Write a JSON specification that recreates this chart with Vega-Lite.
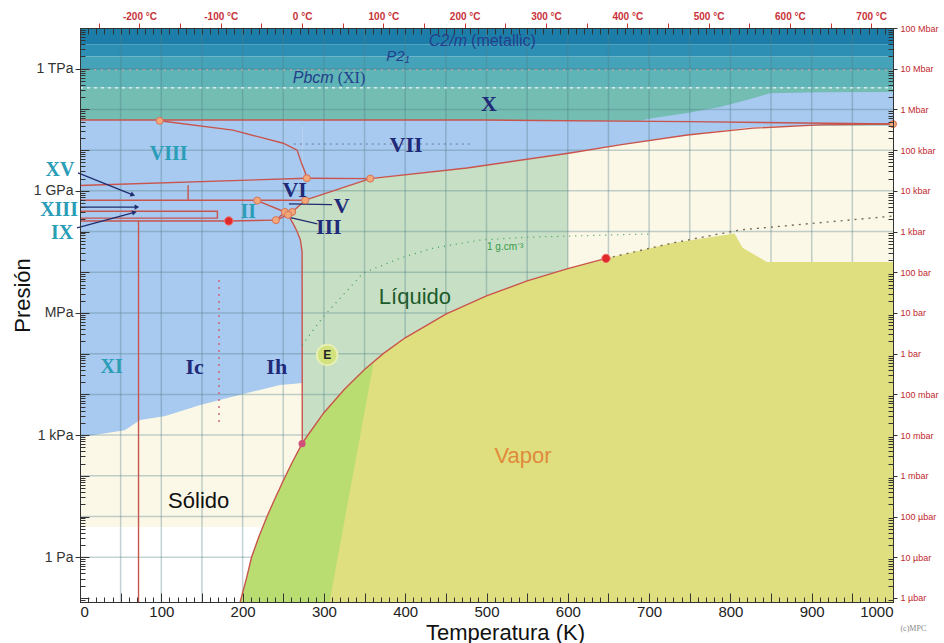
{
"$schema":"https://vega.github.io/schema/vega-lite/v6.json",
"width":813,"height":574,"autosize":"none",
"padding":{"left":80,"top":28,"right":51,"bottom":41},
"background":"white",
"config":{"view":{"stroke":null},"axis":{"grid":false,"labelFont":"Liberation Sans","titleFont":"Liberation Sans"}},
"resolve":{"axis":{"x":"independent","y":"independent"},"scale":{"color":"independent"}},
"datasets":{
"bandas":[
{"fase":"C2/m","T1":0,"T2":1000,"p1":12.6,"p2":13},
{"fase":"b2","T1":0,"T2":1000,"p1":12.3,"p2":12.6},
{"fase":"P21","T1":0,"T2":1000,"p1":11.97,"p2":12.3},
{"fase":"Pbcm","T1":0,"T2":1000,"p1":11.53,"p2":11.97},
{"fase":"X","T1":0,"T2":1000,"p1":10.6,"p2":11.53},
{"fase":"fluido","T1":0,"T2":1000,"p1":0.74,"p2":10.6}
],
"hielo":[
{"zona":"A","T":0,"lo":2.95,"hi":10.74},
{"zona":"A","T":55,"lo":3.12,"hi":10.74},
{"zona":"A","T":74,"lo":3.37,"hi":10.74},
{"zona":"A","T":105,"lo":3.47,"hi":10.74},
{"zona":"A","T":148,"lo":3.74,"hi":10.74},
{"zona":"A","T":185,"lo":3.93,"hi":10.74},
{"zona":"A","T":221,"lo":4.11,"hi":10.74},
{"zona":"A","T":246,"lo":4.23,"hi":10.74},
{"zona":"A","T":274,"lo":4.28,"hi":10.74},
{"zona":"B","T":274,"lo":8.77,"hi":10.74},
{"zona":"B","T":277,"lo":8.77,"hi":10.74},
{"zona":"B","T":357,"lo":9.3,"hi":10.74},
{"zona":"B","T":476,"lo":9.56,"hi":10.74},
{"zona":"B","T":603,"lo":9.93,"hi":10.73},
{"zona":"B","T":664,"lo":10.13,"hi":10.72},
{"zona":"B","T":689,"lo":10.2,"hi":10.72},
{"zona":"B","T":705,"lo":10.25,"hi":10.79},
{"zona":"B","T":747,"lo":10.37,"hi":10.91},
{"zona":"B","T":787,"lo":10.47,"hi":11.06},
{"zona":"B","T":820,"lo":10.55,"hi":11.23},
{"zona":"B","T":849,"lo":10.58,"hi":11.4},
{"zona":"B","T":910,"lo":10.62,"hi":11.42},
{"zona":"B","T":1000,"lo":10.64,"hi":11.43}
],
"liquido":[
{"T":256,"lo":8.41,"hi":8.41},
{"T":262,"lo":8.2,"hi":8.5},
{"T":267,"lo":8.0,"hi":8.6},
{"T":271,"lo":7.8,"hi":8.71},
{"T":273.2,"lo":7.5,"hi":8.76},
{"T":273.4,"lo":2.79,"hi":8.76},
{"T":277,"lo":2.9,"hi":8.77},
{"T":300,"lo":3.55,"hi":8.92},
{"T":325,"lo":4.12,"hi":9.09},
{"T":357,"lo":4.7,"hi":9.3},
{"T":400,"lo":5.39,"hi":9.39},
{"T":476,"lo":6.15,"hi":9.56},
{"T":550,"lo":6.79,"hi":9.77},
{"T":600,"lo":7.09,"hi":9.91}
],
"vapor":[
{"T":197,"lo":-1.1,"hi":-1.1},
{"T":205,"lo":-1.1,"hi":-0.5},
{"T":211,"lo":-1.1,"hi":0},
{"T":220,"lo":-1.1,"hi":0.5},
{"T":230,"lo":-1.1,"hi":1.0},
{"T":240,"lo":-1.1,"hi":1.45},
{"T":250,"lo":-1.1,"hi":1.88},
{"T":260,"lo":-1.1,"hi":2.29},
{"T":273.16,"lo":-1.1,"hi":2.79},
{"T":280,"lo":-1.1,"hi":2.99},
{"T":300,"lo":-1.1,"hi":3.55},
{"T":325,"lo":-1.1,"hi":4.12},
{"T":350,"lo":-1.1,"hi":4.61},
{"T":373,"lo":-1.1,"hi":5.0},
{"T":400,"lo":-1.1,"hi":5.39},
{"T":450,"lo":-1.1,"hi":5.97},
{"T":500,"lo":-1.1,"hi":6.42},
{"T":550,"lo":-1.1,"hi":6.79},
{"T":600,"lo":-1.1,"hi":7.09},
{"T":647,"lo":-1.1,"hi":7.34},
{"T":729,"lo":-1.1,"hi":7.72},
{"T":805,"lo":-1.1,"hi":7.95},
{"T":815,"lo":-1.1,"hi":7.6},
{"T":845,"lo":-1.1,"hi":7.25},
{"T":1000,"lo":-1.1,"hi":7.25}
],
"vverde":[
{"T":197,"lo":-1.1,"hi":-1.1},
{"T":205,"lo":-1.1,"hi":-0.5},
{"T":211,"lo":-1.1,"hi":0},
{"T":220,"lo":-1.1,"hi":0.5},
{"T":230,"lo":-1.1,"hi":1.0},
{"T":240,"lo":-1.1,"hi":1.45},
{"T":250,"lo":-1.1,"hi":1.88},
{"T":260,"lo":-1.1,"hi":2.29},
{"T":273.16,"lo":-1.1,"hi":2.79},
{"T":280,"lo":-1.1,"hi":2.99},
{"T":300,"lo":-1.1,"hi":3.55},
{"T":307,"lo":-1.1,"hi":3.7},
{"T":325,"lo":0.86,"hi":4.12},
{"T":350,"lo":3.57,"hi":4.61},
{"T":361,"lo":4.77,"hi":4.77}
],
"rejillaT":[{"T":50},{"T":100},{"T":150},{"T":200},{"T":250},{"T":300},{"T":350},{"T":400},{"T":450},{"T":500},{"T":550},{"T":600},{"T":650},{"T":700},{"T":750},{"T":800},{"T":850},{"T":900},{"T":950}],
"rejillaP":[{"p":0},{"p":1},{"p":2},{"p":3},{"p":4},{"p":5},{"p":6},{"p":7},{"p":8},{"p":9},{"p":10},{"p":11},{"p":12}],
"lineas":[
{"l":"X","i":0,"T":0,"p":10.74},{"l":"X","i":1,"T":500,"p":10.74},{"l":"X","i":2,"T":750,"p":10.7},{"l":"X","i":3,"T":1000,"p":10.64},
{"l":"VII-VIII","i":0,"T":98,"p":10.72},{"l":"VII-VIII","i":1,"T":188,"p":10.49},{"l":"VII-VIII","i":2,"T":250,"p":10.17},{"l":"VII-VIII","i":3,"T":267,"p":10.0},{"l":"VII-VIII","i":4,"T":273,"p":9.65},{"l":"VII-VIII","i":5,"T":277,"p":9.45},{"l":"VII-VIII","i":6,"T":279,"p":9.31},
{"l":"VI-VIII","i":0,"T":0,"p":9.13},{"l":"VI-VIII","i":1,"T":279,"p":9.31},
{"l":"VI-VII","i":0,"T":279,"p":9.31},{"l":"VI-VII","i":1,"T":357,"p":9.3},
{"l":"VII-L","i":0,"T":357,"p":9.3},{"l":"VII-L","i":1,"T":476,"p":9.56},{"l":"VII-L","i":2,"T":603,"p":9.93},{"l":"VII-L","i":3,"T":664,"p":10.13},{"l":"VII-L","i":4,"T":747,"p":10.37},{"l":"VII-L","i":5,"T":828,"p":10.54},{"l":"VII-L","i":6,"T":910,"p":10.62},{"l":"VII-L","i":7,"T":1000,"p":10.64},
{"l":"VI-L","i":0,"T":277,"p":8.77},{"l":"VI-L","i":1,"T":357,"p":9.3},
{"l":"VI-II","i":0,"T":0,"p":8.77},{"l":"VI-II","i":1,"T":277,"p":8.77},
{"l":"XV","i":0,"T":133,"p":9.14},{"l":"XV","i":1,"T":133,"p":8.77},
{"l":"XIII","i":0,"T":0,"p":8.5},{"l":"XIII","i":1,"T":169,"p":8.5},{"l":"XIII","i":2,"T":169,"p":8.33},{"l":"XIII","i":3,"T":0,"p":8.33},
{"l":"II-V","i":0,"T":218,"p":8.76},{"l":"II-V","i":1,"T":252,"p":8.48},
{"l":"II-Ih","i":0,"T":0,"p":8.26},{"l":"II-Ih","i":1,"T":183,"p":8.26},{"l":"II-Ih","i":2,"T":241,"p":8.28},
{"l":"II-III","i":0,"T":241,"p":8.28},{"l":"II-III","i":1,"T":252,"p":8.48},
{"l":"III-V-L","i":0,"T":252,"p":8.48},{"l":"III-V-L","i":1,"T":261,"p":8.48},{"l":"III-V-L","i":2,"T":277,"p":8.77},
{"l":"Ih-III","i":0,"T":241,"p":8.28},{"l":"Ih-III","i":1,"T":256,"p":8.41},
{"l":"Ih-L","i":0,"T":256,"p":8.41},{"l":"Ih-L","i":1,"T":262,"p":8.2},{"l":"Ih-L","i":2,"T":267,"p":8.0},{"l":"Ih-L","i":3,"T":271,"p":7.8},{"l":"Ih-L","i":4,"T":273.2,"p":7.5},{"l":"Ih-L","i":5,"T":273.4,"p":2.79},
{"l":"XI","i":0,"T":72,"p":8.26},{"l":"XI","i":1,"T":72,"p":-1.1},
{"l":"SV","i":0,"T":197,"p":-1.1},{"l":"SV","i":1,"T":205,"p":-0.5},{"l":"SV","i":2,"T":211,"p":0},{"l":"SV","i":3,"T":220,"p":0.5},{"l":"SV","i":4,"T":230,"p":1.0},{"l":"SV","i":5,"T":240,"p":1.45},{"l":"SV","i":6,"T":250,"p":1.88},{"l":"SV","i":7,"T":260,"p":2.29},{"l":"SV","i":8,"T":273.16,"p":2.79},{"l":"SV","i":9,"T":280,"p":2.99},{"l":"SV","i":10,"T":300,"p":3.55},{"l":"SV","i":11,"T":325,"p":4.12},{"l":"SV","i":12,"T":350,"p":4.61},{"l":"SV","i":13,"T":373,"p":5.0},{"l":"SV","i":14,"T":400,"p":5.39},{"l":"SV","i":15,"T":450,"p":5.97},{"l":"SV","i":16,"T":500,"p":6.42},{"l":"SV","i":17,"T":550,"p":6.79},{"l":"SV","i":18,"T":600,"p":7.09},{"l":"SV","i":19,"T":647,"p":7.34}
],
"punteadas":[
{"l":"Ic-Ih","i":0,"T":171,"p":6.81},{"l":"Ic-Ih","i":1,"T":171,"p":3.29},
{"l":"supercritico","i":0,"T":647,"p":7.34},{"l":"supercritico","i":1,"T":729,"p":7.72},{"l":"supercritico","i":2,"T":812,"p":8.04},{"l":"supercritico","i":3,"T":1000,"p":8.38},
{"l":"isocora","i":0,"T":273,"p":5.21},{"l":"isocora","i":1,"T":299,"p":5.9},{"l":"isocora","i":2,"T":348,"p":6.98},{"l":"isocora","i":3,"T":397,"p":7.37},{"l":"isocora","i":4,"T":434,"p":7.59},{"l":"isocora","i":5,"T":492,"p":7.79},{"l":"isocora","i":6,"T":550,"p":7.86},{"l":"isocora","i":7,"T":640,"p":7.91},{"l":"isocora","i":8,"T":701,"p":7.94},
{"l":"sup1","i":0,"T":0,"p":11.97},{"l":"sup1","i":1,"T":1000,"p":11.97},
{"l":"sup2","i":0,"T":0,"p":11.53},{"l":"sup2","i":1,"T":1000,"p":11.53},
{"l":"gris","i":0,"T":263,"p":10.15},{"l":"gris","i":1,"T":480,"p":10.15}
],
"flechas":[
{"f":"XV","i":0,"T":-2.5,"p":9.44},{"f":"XV","i":1,"T":65,"p":8.9},
{"f":"XIII","i":0,"T":0,"p":8.6},{"f":"XIII","i":1,"T":70,"p":8.6},
{"f":"IX","i":0,"T":-3.7,"p":8.09},{"f":"IX","i":1,"T":67,"p":8.47},
{"f":"V","i":0,"T":257,"p":8.68},{"f":"V","i":1,"T":310,"p":8.66},
{"f":"III","i":0,"T":255,"p":8.36},{"f":"III","i":1,"T":292,"p":8.19}
],
"puntas":[{"f":"XV","T":65,"p":8.9},{"f":"XIII","T":70,"p":8.6},{"f":"IX","T":67,"p":8.47}],
"puntos":[
{"tipo":"triple","T":98,"p":10.72},{"tipo":"triple","T":279,"p":9.31},{"tipo":"triple","T":357,"p":9.3},{"tipo":"triple","T":277,"p":8.77},{"tipo":"triple","T":218,"p":8.76},{"tipo":"triple","T":252,"p":8.48},{"tipo":"triple","T":261,"p":8.48},{"tipo":"triple","T":256,"p":8.41},{"tipo":"triple","T":241,"p":8.28},{"tipo":"triple","T":1000,"p":10.64},
{"tipo":"rojo","T":183,"p":8.26},{"tipo":"rojo","T":647,"p":7.34},
{"tipo":"rosa","T":273.16,"p":2.79}
],
"etiquetas":[
{"g":"azul","texto":"X","T":503,"p":11.13},
{"g":"azul","texto":"VII","T":401,"p":10.13},
{"g":"azul","texto":"VI","T":264,"p":9.02},
{"g":"azul","texto":"V","T":322,"p":8.63},
{"g":"azul","texto":"III","T":306,"p":8.11},
{"g":"azul","texto":"Ic","T":141,"p":4.67},
{"g":"azul","texto":"Ih","T":242,"p":4.67},
{"g":"cian","texto":"VIII","T":109,"p":9.9},
{"g":"cian","texto":"II","T":207,"p":8.48},
{"g":"cian","texto":"XV","T":-24.6,"p":9.5},
{"g":"cian","texto":"XIII","T":-25.8,"p":8.53},
{"g":"cian","texto":"IX","T":-22,"p":7.97},
{"g":"cian","texto":"XI","T":39,"p":4.67},
{"g":"cursiva","texto":"C2/m","T":476,"p":12.68},
{"g":"cursiva","texto":"Pbcm","T":312,"p":11.77},
{"g":"p21","texto":"P2₁","T":391,"p":12.31},
{"g":"sans","texto":"(metallic)","T":481,"p":12.68},
{"g":"serif","texto":"(XI)","T":317,"p":11.77},
{"g":"liq","texto":"Líquido","T":412,"p":6.39},
{"g":"vap","texto":"Vapor","T":545,"p":2.49},
{"g":"sol","texto":"Sólido","T":146,"p":1.38},
{"g":"dens","texto":"1 g.cm⁻³","T":523,"p":7.62},
{"g":"E","texto":"E","T":304,"p":4.97},
{"g":"copy","texto":"(c)MPC","T":1025,"p":-1.76}
]
},
"layer":[
{"data":{"name":"bandas"},"mark":{"type":"rect"},
 "encoding":{
  "x":{"field":"T1","type":"quantitative","scale":{"domain":[0,1000],"nice":false,"zero":false},
   "axis":{"orient":"bottom","values":[0,100,200,300,400,500,600,700,800,900,1000],"format":"d","ticks":false,"labelFontSize":15,"labelColor":"#222","labelPadding":2,"labelFlush":true,"labelOverlap":false,"domainColor":"#333","title":"Temperatura (K)","titleFontSize":22,"titleFontWeight":"normal","titleColor":"#111","titleX":425,"titleY":30,"titleBaseline":"middle","zindex":1}},
  "x2":{"field":"T2"},
  "y":{"field":"p1","type":"quantitative","scale":{"domain":[-1.1,13],"nice":false,"zero":false},
   "axis":{"orient":"left","values":[12,9,6,3,0],"labelExpr":"datum.value==12?'1 TPa':datum.value==9?'1 GPa':datum.value==6?'MPa':datum.value==3?'1 kPa':'1 Pa'","tickSize":5,"tickColor":"#333","labelFontSize":14,"labelColor":"#333","labelPadding":2,"labelFlush":false,"labelOverlap":false,"domainColor":"#333","title":"Presión","titleFontSize":22,"titleFontWeight":"normal","titleColor":"#111","titleAngle":270,"titleX":-58,"titleY":267,"titleAlign":"center","titleBaseline":"middle","zindex":1}},
  "y2":{"field":"p2"},
  "color":{"field":"fase","type":"nominal","scale":{"domain":["C2/m","b2","P21","Pbcm","X","fluido"],"range":["#1c7ea8","#2d8fb4","#45a3b9","#5eb4b6","#74bdb3","#fcf8e8"]},"legend":null}
 }},
{"data":{"name":"hielo"},"mark":{"type":"area","color":"#a8c9f0"},
 "encoding":{"x":{"field":"T","type":"quantitative","axis":null},"y":{"field":"lo","type":"quantitative","axis":null,"stack":null},"y2":{"field":"hi"},"detail":{"field":"zona"}}},
{"data":{"name":"liquido"},"mark":{"type":"area","color":"#c7e0c5"},
 "encoding":{"x":{"field":"T","type":"quantitative","axis":null},"y":{"field":"lo","type":"quantitative","axis":null,"stack":null},"y2":{"field":"hi"}}},
{"data":{"name":"rejillaT"},"mark":{"type":"rule","color":"#4f7f86","opacity":0.35,"strokeWidth":1.5},
 "encoding":{"x":{"field":"T","type":"quantitative","axis":null}}},
{"data":{"name":"rejillaP"},"mark":{"type":"rule","color":"#4f7f86","opacity":0.35,"strokeWidth":1.5},
 "encoding":{"y":{"field":"p","type":"quantitative","axis":null}}},
{"data":{"name":"vapor"},"mark":{"type":"area","color":"#dfdf80"},
 "encoding":{"x":{"field":"T","type":"quantitative","axis":null},"y":{"field":"lo","type":"quantitative","axis":null,"stack":null},"y2":{"field":"hi"}}},
{"data":{"name":"vverde"},"mark":{"type":"area","color":"#badd72"},
 "encoding":{"x":{"field":"T","type":"quantitative","axis":null},"y":{"field":"lo","type":"quantitative","axis":null,"stack":null},"y2":{"field":"hi"}}},
{"data":{"name":"punteadas"},"transform":[{"filter":"datum.l=='sup1'"}],"mark":{"type":"line","color":"#c9a0a0","strokeWidth":1.2,"strokeDash":[2,5]},
 "encoding":{"x":{"field":"T","type":"quantitative","axis":null},"y":{"field":"p","type":"quantitative","axis":null},"order":{"field":"i"}}},
{"data":{"name":"punteadas"},"transform":[{"filter":"datum.l=='sup2'"}],"mark":{"type":"line","color":"#eef6f6","strokeWidth":1.2,"strokeDash":[3,4]},
 "encoding":{"x":{"field":"T","type":"quantitative","axis":null},"y":{"field":"p","type":"quantitative","axis":null},"order":{"field":"i"}}},
{"data":{"name":"punteadas"},"transform":[{"filter":"datum.l=='gris'"}],"mark":{"type":"line","color":"#6a7a9a","strokeWidth":1,"strokeDash":[2,4]},
 "encoding":{"x":{"field":"T","type":"quantitative","axis":null},"y":{"field":"p","type":"quantitative","axis":null},"order":{"field":"i"}}},
{"data":{"name":"lineas"},"mark":{"type":"line","color":"#c9544c","strokeWidth":1.4},
 "encoding":{"x":{"field":"T","type":"quantitative","axis":null},"y":{"field":"p","type":"quantitative","axis":null},"detail":{"field":"l"},"order":{"field":"i"}}},
{"data":{"name":"punteadas"},"transform":[{"filter":"datum.l=='Ic-Ih'"}],"mark":{"type":"line","color":"#d06070","strokeWidth":1.4,"strokeDash":[2,5]},
 "encoding":{"x":{"field":"T","type":"quantitative","axis":null},"y":{"field":"p","type":"quantitative","axis":null},"order":{"field":"i"}}},
{"data":{"name":"punteadas"},"transform":[{"filter":"datum.l=='supercritico'"}],"mark":{"type":"line","color":"#7a6a50","strokeWidth":1.4,"strokeDash":[2,5]},
 "encoding":{"x":{"field":"T","type":"quantitative","axis":null},"y":{"field":"p","type":"quantitative","axis":null},"order":{"field":"i"}}},
{"data":{"name":"punteadas"},"transform":[{"filter":"datum.l=='isocora'"}],"mark":{"type":"line","color":"#3a9a4a","strokeWidth":1.2,"strokeDash":[1,5]},
 "encoding":{"x":{"field":"T","type":"quantitative","axis":null},"y":{"field":"p","type":"quantitative","axis":null},"order":{"field":"i"}}},
{"data":{"name":"flechas"},"mark":{"type":"line","color":"#1f2d6e","strokeWidth":1.2},
 "encoding":{"x":{"field":"T","type":"quantitative","axis":null},"y":{"field":"p","type":"quantitative","axis":null},"detail":{"field":"f"},"order":{"field":"i"}}},
{"data":{"name":"puntas"},"transform":[{"filter":"datum.f=='XV'"}],"mark":{"type":"point","shape":"triangle-right","filled":true,"color":"#1f2d6e","size":28,"angle":22,"opacity":1},
 "encoding":{"x":{"field":"T","type":"quantitative","axis":null},"y":{"field":"p","type":"quantitative","axis":null}}},
{"data":{"name":"puntas"},"transform":[{"filter":"datum.f=='XIII'"}],"mark":{"type":"point","shape":"triangle-right","filled":true,"color":"#1f2d6e","size":28,"angle":0,"opacity":1},
 "encoding":{"x":{"field":"T","type":"quantitative","axis":null},"y":{"field":"p","type":"quantitative","axis":null}}},
{"data":{"name":"puntas"},"transform":[{"filter":"datum.f=='IX'"}],"mark":{"type":"point","shape":"triangle-right","filled":true,"color":"#1f2d6e","size":28,"angle":345,"opacity":1},
 "encoding":{"x":{"field":"T","type":"quantitative","axis":null},"y":{"field":"p","type":"quantitative","axis":null}}},
{"data":{"name":"puntos"},"transform":[{"filter":"datum.tipo=='triple'"}],"mark":{"type":"point","shape":"circle","filled":true,"fill":"#f2a878","stroke":"#d6735a","strokeWidth":1,"size":50,"opacity":1},
 "encoding":{"x":{"field":"T","type":"quantitative","axis":null},"y":{"field":"p","type":"quantitative","axis":null}}},
{"data":{"name":"puntos"},"transform":[{"filter":"datum.tipo=='rojo'"}],"mark":{"type":"point","shape":"circle","filled":true,"fill":"#e02a2a","stroke":"#f07070","strokeWidth":1,"size":70,"opacity":1},
 "encoding":{"x":{"field":"T","type":"quantitative","axis":null},"y":{"field":"p","type":"quantitative","axis":null}}},
{"data":{"name":"puntos"},"transform":[{"filter":"datum.tipo=='rosa'"}],"mark":{"type":"point","shape":"circle","filled":true,"fill":"#d0507a","strokeWidth":0,"size":50,"opacity":1},
 "encoding":{"x":{"field":"T","type":"quantitative","axis":null},"y":{"field":"p","type":"quantitative","axis":null}}},
{"data":{"name":"etiquetas"},"transform":[{"filter":"datum.g=='E'"}],"mark":{"type":"point","shape":"circle","filled":true,"fill":"#d3e27c","stroke":"#e6efb4","strokeWidth":2,"size":420,"opacity":1},
 "encoding":{"x":{"field":"T","type":"quantitative","axis":null},"y":{"field":"p","type":"quantitative","axis":null}}},
{"data":{"name":"etiquetas"},"transform":[{"filter":"datum.g=='azul'"}],"mark":{"type":"text","font":"Liberation Serif","fontWeight":"bold","fontSize":22,"color":"#1f2a78","baseline":"middle"},
 "encoding":{"x":{"field":"T","type":"quantitative","axis":null},"y":{"field":"p","type":"quantitative","axis":null},"text":{"field":"texto"}}},
{"data":{"name":"etiquetas"},"transform":[{"filter":"datum.g=='cian'"}],"mark":{"type":"text","font":"Liberation Serif","fontWeight":"bold","fontSize":20,"color":"#2a9db7","baseline":"middle"},
 "encoding":{"x":{"field":"T","type":"quantitative","axis":null},"y":{"field":"p","type":"quantitative","axis":null},"text":{"field":"texto"}}},
{"data":{"name":"etiquetas"},"transform":[{"filter":"datum.g=='cursiva'"}],"mark":{"type":"text","font":"Liberation Sans","fontStyle":"italic","fontSize":16,"color":"#233f8c","baseline":"middle","align":"right"},
 "encoding":{"x":{"field":"T","type":"quantitative","axis":null},"y":{"field":"p","type":"quantitative","axis":null},"text":{"field":"texto"}}},
{"data":{"name":"etiquetas"},"transform":[{"filter":"datum.g=='p21'"}],"mark":{"type":"text","font":"Liberation Sans","fontStyle":"italic","fontSize":15,"color":"#233f8c","baseline":"middle","align":"center"},
 "encoding":{"x":{"field":"T","type":"quantitative","axis":null},"y":{"field":"p","type":"quantitative","axis":null},"text":{"field":"texto"}}},
{"data":{"name":"etiquetas"},"transform":[{"filter":"datum.g=='sans'"}],"mark":{"type":"text","font":"Liberation Sans","fontSize":16,"color":"#233f8c","baseline":"middle","align":"left"},
 "encoding":{"x":{"field":"T","type":"quantitative","axis":null},"y":{"field":"p","type":"quantitative","axis":null},"text":{"field":"texto"}}},
{"data":{"name":"etiquetas"},"transform":[{"filter":"datum.g=='serif'"}],"mark":{"type":"text","font":"Liberation Serif","fontSize":16,"color":"#233f8c","baseline":"middle","align":"left"},
 "encoding":{"x":{"field":"T","type":"quantitative","axis":null},"y":{"field":"p","type":"quantitative","axis":null},"text":{"field":"texto"}}},
{"data":{"name":"etiquetas"},"transform":[{"filter":"datum.g=='liq'"}],"mark":{"type":"text","font":"Liberation Sans","fontSize":22,"color":"#1d5a2b","baseline":"middle"},
 "encoding":{"x":{"field":"T","type":"quantitative","axis":null},"y":{"field":"p","type":"quantitative","axis":null},"text":{"field":"texto"}}},
{"data":{"name":"etiquetas"},"transform":[{"filter":"datum.g=='vap'"}],"mark":{"type":"text","font":"Liberation Sans","fontSize":22,"color":"#e08a3c","baseline":"middle"},
 "encoding":{"x":{"field":"T","type":"quantitative","axis":null},"y":{"field":"p","type":"quantitative","axis":null},"text":{"field":"texto"}}},
{"data":{"name":"etiquetas"},"transform":[{"filter":"datum.g=='sol'"}],"mark":{"type":"text","font":"Liberation Sans","fontSize":22,"color":"#111111","baseline":"middle"},
 "encoding":{"x":{"field":"T","type":"quantitative","axis":null},"y":{"field":"p","type":"quantitative","axis":null},"text":{"field":"texto"}}},
{"data":{"name":"etiquetas"},"transform":[{"filter":"datum.g=='dens'"}],"mark":{"type":"text","font":"Liberation Sans","fontSize":10,"color":"#35994a","baseline":"middle"},
 "encoding":{"x":{"field":"T","type":"quantitative","axis":null},"y":{"field":"p","type":"quantitative","axis":null},"text":{"field":"texto"}}},
{"data":{"name":"etiquetas"},"transform":[{"filter":"datum.g=='E'"}],"mark":{"type":"text","font":"Liberation Sans","fontWeight":"bold","fontSize":12,"color":"#222","baseline":"middle"},
 "encoding":{"x":{"field":"T","type":"quantitative","axis":null},"y":{"field":"p","type":"quantitative","axis":null},"text":{"field":"texto"}}},
{"data":{"name":"etiquetas"},"transform":[{"filter":"datum.g=='copy'"}],"mark":{"type":"text","font":"Liberation Serif","fontSize":8,"color":"#888","baseline":"middle"},
 "encoding":{"x":{"field":"T","type":"quantitative","axis":null},"y":{"field":"p","type":"quantitative","axis":null},"text":{"field":"texto"}}},
{"data":{"name":"rejillaT"},"mark":{"type":"point","opacity":0},
 "encoding":{"x":{"field":"T","type":"quantitative","axis":{"orient":"bottom","tickCount":100,"tickSize":-5,"tickColor":"#333","labels":false,"domain":false,"title":null,"zindex":1}}}},
{"data":{"name":"rejillaT"},"mark":{"type":"point","opacity":0},
 "encoding":{"x":{"field":"T","type":"quantitative","axis":{"orient":"bottom","tickCount":20,"tickSize":-9,"tickColor":"#333","labels":false,"domain":false,"title":null,"zindex":1}}}},
{"data":{"name":"rejillaT"},"mark":{"type":"point","opacity":0},
 "encoding":{"x":{"field":"T","type":"quantitative","axis":{"orient":"top","tickCount":100,"tickSize":-6,"tickColor":"#333","labels":false,"domain":false,"title":null,"zindex":1}}}},
{"data":{"name":"rejillaT"},"mark":{"type":"point","opacity":0},
 "encoding":{"x":{"field":"T","type":"quantitative","axis":{"orient":"top","values":[23.15,73.15,123.15,173.15,223.15,273.15,323.15,373.15,423.15,473.15,523.15,573.15,623.15,673.15,723.15,773.15,823.15,873.15,923.15,973.15],"labelExpr":"(round(datum.value-273.15)%100==0)?(round(datum.value-273.15)+' °C'):''","tickSize":5,"tickColor":"#c8323a","labelColor":"#c8323a","labelFontSize":10,"labelFontWeight":"bold","labelFont":"Liberation Sans Narrow, Liberation Sans, sans-serif","labelPadding":2,"labelOverlap":false,"labelFlush":false,"domainColor":"#333","title":null,"zindex":1}}}},
{"data":{"name":"rejillaP"},"mark":{"type":"point","opacity":0},
 "encoding":{"y":{"field":"p","type":"quantitative","axis":{"orient":"left","values":[-1.097,-1.046,-0.699,-0.523,-0.398,-0.301,-0.222,-0.155,-0.097,-0.046,0.301,0.477,0.602,0.699,0.778,0.845,0.903,0.954,1.301,1.477,1.602,1.699,1.778,1.845,1.903,1.954,2.301,2.477,2.602,2.699,2.778,2.845,2.903,2.954,3.301,3.477,3.602,3.699,3.778,3.845,3.903,3.954,4.301,4.477,4.602,4.699,4.778,4.845,4.903,4.954,5.301,5.477,5.602,5.699,5.778,5.845,5.903,5.954,6.301,6.477,6.602,6.699,6.778,6.845,6.903,6.954,7.301,7.477,7.602,7.699,7.778,7.845,7.903,7.954,8.301,8.477,8.602,8.699,8.778,8.845,8.903,8.954,9.301,9.477,9.602,9.699,9.778,9.845,9.903,9.954,10.301,10.477,10.602,10.699,10.778,10.845,10.903,10.954,11.301,11.477,11.602,11.699,11.778,11.845,11.903,11.954,12.301,12.477,12.602,12.699,12.778,12.845,12.903,12.954],"tickSize":-5,"tickColor":"#333","labels":false,"domain":false,"title":null,"zindex":1}}}},
{"data":{"name":"rejillaP"},"mark":{"type":"point","opacity":0},
 "encoding":{"y":{"field":"p","type":"quantitative","axis":{"orient":"left","values":[-1,0,1,2,3,4,5,6,7,8,9,10,11,12],"tickSize":-9,"tickColor":"#333","labels":false,"domain":false,"title":null,"zindex":1}}}},
{"data":{"name":"rejillaP"},"mark":{"type":"point","opacity":0},
 "encoding":{"y":{"field":"p","type":"quantitative","axis":{"orient":"right","values":[-1.097,-1.046,-0.699,-0.523,-0.398,-0.301,-0.222,-0.155,-0.097,-0.046,0.301,0.477,0.602,0.699,0.778,0.845,0.903,0.954,1.301,1.477,1.602,1.699,1.778,1.845,1.903,1.954,2.301,2.477,2.602,2.699,2.778,2.845,2.903,2.954,3.301,3.477,3.602,3.699,3.778,3.845,3.903,3.954,4.301,4.477,4.602,4.699,4.778,4.845,4.903,4.954,5.301,5.477,5.602,5.699,5.778,5.845,5.903,5.954,6.301,6.477,6.602,6.699,6.778,6.845,6.903,6.954,7.301,7.477,7.602,7.699,7.778,7.845,7.903,7.954,8.301,8.477,8.602,8.699,8.778,8.845,8.903,8.954,9.301,9.477,9.602,9.699,9.778,9.845,9.903,9.954,10.301,10.477,10.602,10.699,10.778,10.845,10.903,10.954,11.301,11.477,11.602,11.699,11.778,11.845,11.903,11.954,12.301,12.477,12.602,12.699,12.778,12.845,12.903,12.954],"tickSize":-5,"tickColor":"#333","labels":false,"domain":false,"title":null,"zindex":1}}}},
{"data":{"name":"rejillaP"},"mark":{"type":"point","opacity":0},
 "encoding":{"y":{"field":"p","type":"quantitative","axis":{"orient":"right","values":[-1,0,1,2,3,4,5,6,7,8,9,10,11,12,13],"labelExpr":"['1 µbar','10 µbar','100 µbar','1 mbar','10 mbar','100 mbar','1 bar','10 bar','100 bar','1 kbar','10 kbar','100 kbar','1 Mbar','10 Mbar','100 Mbar'][round(datum.value)+1]","tickSize":4,"tickColor":"#333","labelColor":"#c0282e","labelFontSize":9,"labelFont":"Liberation Sans Narrow, Liberation Sans, sans-serif","labelPadding":3,"labelFlush":false,"labelOverlap":false,"domainColor":"#333","title":null,"zindex":1}}}}
]
}
